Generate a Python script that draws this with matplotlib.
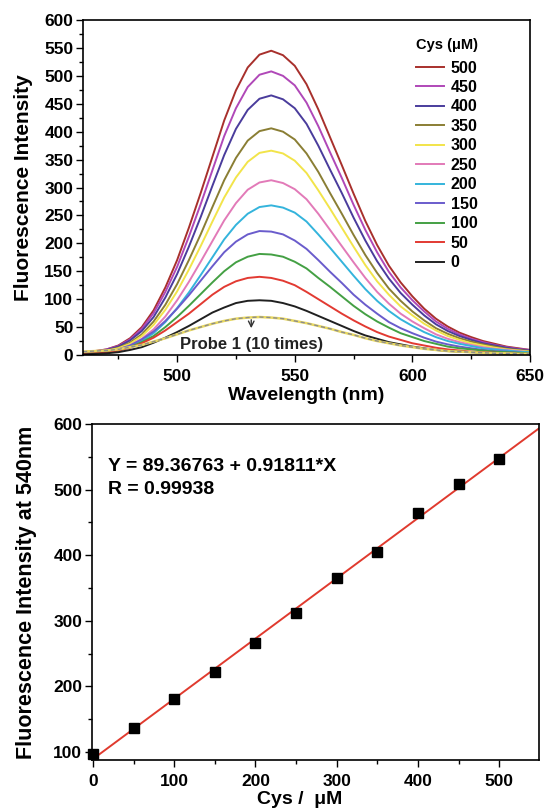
import numpy as np
import matplotlib
matplotlib.use("Agg")
import matplotlib.pyplot as plt
from matplotlib.ticker import MultipleLocator

plt.rcParams['font.family'] = ['Liberation Sans', 'DejaVu Sans']
plt.rcParams['font.weight'] = 'bold'

wavelength = list(range(460, 651, 5))

spectra = {
    '500': [5, 7, 10, 17, 30, 50, 80, 121, 170, 228, 290, 355, 420, 474, 515, 538, 545, 537, 518, 485,
            440, 390, 340, 289, 240, 197, 160, 130, 105, 83, 65, 51, 40, 32, 25, 20, 15, 12, 9],
    '450': [5, 6, 10, 16, 28, 47, 75, 113, 158, 212, 270, 331, 392, 442, 480, 502, 508, 500, 483, 452,
            410, 363, 317, 269, 224, 184, 149, 121, 98, 78, 60, 47, 37, 29, 23, 18, 14, 11, 9],
    '400': [4, 6, 9, 15, 26, 43, 68, 103, 145, 194, 247, 303, 358, 405, 439, 459, 465, 458, 442, 414,
            375, 332, 290, 246, 205, 168, 137, 111, 90, 71, 55, 43, 34, 27, 21, 17, 13, 10, 8],
    '350': [4, 5, 8, 13, 22, 37, 60, 90, 127, 170, 216, 265, 313, 353, 384, 401, 406, 400, 386, 361,
            328, 290, 253, 215, 179, 147, 119, 97, 78, 62, 48, 38, 30, 24, 19, 15, 11, 9, 7],
    '300': [3, 4, 7, 12, 20, 34, 54, 81, 114, 153, 195, 239, 282, 318, 346, 362, 366, 361, 348, 326,
            295, 262, 228, 194, 161, 132, 108, 87, 71, 56, 44, 34, 27, 21, 17, 13, 10, 8, 6],
    '250': [3, 4, 6, 10, 17, 29, 46, 69, 98, 131, 167, 204, 241, 272, 296, 309, 313, 308, 297, 279,
            253, 224, 195, 166, 138, 113, 92, 74, 60, 48, 37, 29, 23, 18, 14, 11, 9, 7, 5],
    '200': [2, 3, 5, 9, 15, 25, 39, 59, 84, 112, 143, 175, 207, 233, 253, 265, 268, 264, 255, 239,
            216, 192, 167, 142, 118, 97, 79, 64, 52, 41, 32, 25, 20, 16, 12, 10, 8, 6, 5],
    '150': [2, 4, 6, 10, 17, 28, 42, 61, 83, 107, 133, 159, 184, 203, 216, 222, 221, 216, 205, 190,
            170, 149, 129, 108, 90, 74, 59, 48, 39, 31, 24, 19, 15, 12, 9, 7, 6, 4, 3],
    '100': [2, 3, 5, 8, 14, 23, 34, 50, 68, 88, 109, 130, 150, 166, 176, 181, 180, 176, 167, 155,
            138, 122, 105, 88, 73, 60, 49, 39, 32, 25, 20, 15, 12, 10, 8, 6, 5, 4, 3],
    '50':  [2, 3, 4, 8, 13, 21, 31, 44, 59, 74, 91, 108, 122, 132, 138, 140, 138, 133, 125, 113,
            100, 87, 74, 62, 51, 41, 33, 27, 21, 17, 13, 10, 8, 6, 5, 4, 3, 2, 2],
    '0':   [1, 2, 3, 5, 9, 14, 22, 31, 41, 52, 64, 76, 85, 93, 97, 98, 97, 93, 87, 79,
            70, 61, 52, 43, 35, 29, 23, 19, 15, 12, 9, 7, 6, 5, 4, 3, 2, 2, 1],
}
probe = [6, 7, 8, 10, 14, 18, 24, 30, 37, 44, 50, 56, 61, 65, 67, 68, 67, 65, 61, 57,
         52, 47, 41, 36, 30, 25, 21, 17, 14, 11, 9, 7, 6, 5, 4, 3, 3, 2, 2]

colors = {
    '500': '#a8302c', '450': '#b048b8', '400': '#4a3c9c', '350': '#8a7e34',
    '300': '#f2e44a', '250': '#e27ab8', '200': '#34b4dc', '150': '#6a5ccc',
    '100': '#44a044', '50': '#e23a32', '0': '#202020',
}

cys = [0, 50, 100, 150, 200, 250, 300, 350, 400, 450, 500]
intensity540 = [97, 136, 181, 222, 267, 312, 366, 405, 465, 508, 546]
fit_intercept = 89.36763
fit_slope = 0.91811
fit_r = 0.99938

fig = plt.figure(figsize=(5.48, 8.11), dpi=100)

TICK_FS = 12.5

# ---- top panel ----
ax1 = fig.add_axes([0.1515, 0.5623, 0.8157, 0.413])
for key, vals in spectra.items():
    ax1.plot(wavelength, vals, color=colors[key], lw=1.4, label=key)
ax1.plot(wavelength, probe, color='#e8d860', lw=1.8)
ax1.plot(wavelength, probe, color='#8c8c8c', lw=1.0, ls=(0, (3, 2)))
ax1.set_xlim(460, 650)
ax1.set_ylim(0, 600)
ax1.xaxis.set_major_locator(MultipleLocator(50))
ax1.xaxis.set_minor_locator(MultipleLocator(25))
ax1.yaxis.set_major_locator(MultipleLocator(50))
ax1.yaxis.set_minor_locator(MultipleLocator(25))
ax1.tick_params(which='both', direction='out', top=False, right=False,
                labelsize=TICK_FS, width=1.0)
ax1.tick_params(axis='x', pad=5)
ax1.tick_params(axis='y', pad=2)
ax1.tick_params(which='major', length=5)
ax1.tick_params(which='minor', length=3)
for lab in ax1.get_xticklabels() + ax1.get_yticklabels():
    lab.set_fontweight('bold')
ax1.set_xlabel('Wavelength (nm)', fontsize=14, fontweight='bold', labelpad=2)
ax1.set_ylabel('Fluorescence Intensity', fontsize=15, fontweight='bold', labelpad=8)
for s in ax1.spines.values():
    s.set_linewidth(1.2)
leg = ax1.legend(title='Cys (μM)', loc='upper left', frameon=False,
                 fontsize=11.5, title_fontsize=10.5, handlelength=1.7,
                 labelspacing=0.28, handletextpad=0.44, borderpad=0.3,
                 borderaxespad=0.0, bbox_to_anchor=(0.735, 0.96))
leg._legend_box.align = 'left'
leg._legend_box.sep = 6
leg.get_title().set_fontweight('bold')
for t in leg.get_texts():
    t.set_fontweight('bold')
ax1.annotate('', xy=(531.5, 43), xytext=(531.5, 68),
             arrowprops=dict(arrowstyle='->', color='#333333', lw=1.0))
ax1.text(531.5, 19, 'Probe 1 (10 times)', ha='center', va='center',
         fontsize=12, fontweight='bold', color='#222222')

# ---- bottom panel ----
ax2 = fig.add_axes([0.168, 0.0629, 0.8157, 0.4143])
ax2.set_xlim(-1, 549)
ax2.set_ylim(88, 600)
xl = np.array(ax2.get_xlim())
ax2.plot(xl, fit_intercept + fit_slope * xl, color='#e03a2e', lw=1.4)
ax2.plot(cys, intensity540, 's', color='black', ms=6.5, clip_on=False, zorder=5)
ax2.xaxis.set_major_locator(MultipleLocator(100))
ax2.xaxis.set_minor_locator(MultipleLocator(50))
ax2.yaxis.set_major_locator(MultipleLocator(100))
ax2.yaxis.set_minor_locator(MultipleLocator(50))
ax2.tick_params(which='both', direction='out', top=False, right=False,
                labelsize=TICK_FS, width=1.0)
ax2.tick_params(axis='x', pad=5)
ax2.tick_params(axis='y', pad=2)
ax2.tick_params(which='major', length=5)
ax2.tick_params(which='minor', length=3)
for lab in ax2.get_xticklabels() + ax2.get_yticklabels():
    lab.set_fontweight('bold')
ax2.set_xlabel('Cys /  μM', fontsize=14, fontweight='bold')
ax2.xaxis.set_label_coords(0.465, -0.093)
ax2.set_ylabel('Fluorescence Intensity at 540nm', fontsize=15.5, fontweight='bold', labelpad=12)
for s in ax2.spines.values():
    s.set_linewidth(1.2)
ax2.text(0.036, 0.898, 'Y = %.5f + %.5f*X\nR = %.5f' % (fit_intercept, fit_slope, fit_r),
         transform=ax2.transAxes, ha='left', va='top', fontsize=14,
         fontweight='bold', linespacing=1.45)

fig.savefig('out.png', dpi=100)
